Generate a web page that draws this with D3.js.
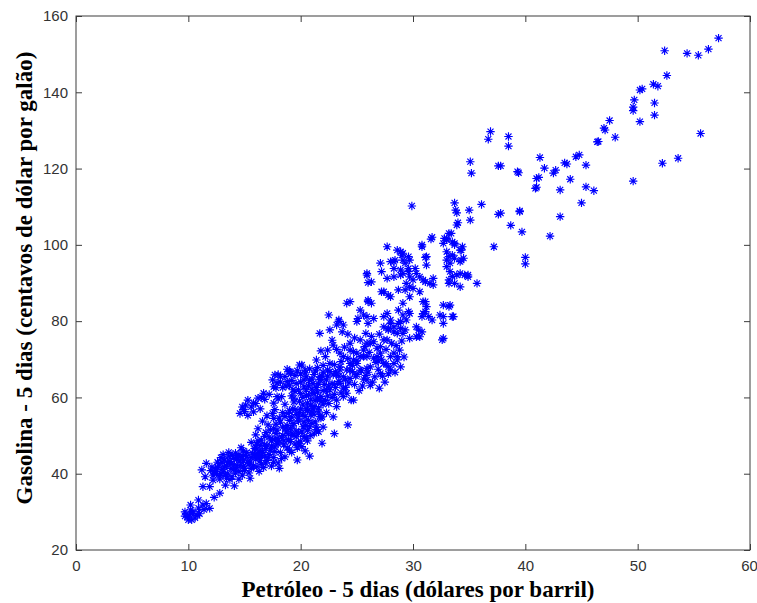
<!DOCTYPE html>
<html>
<head>
<meta charset="utf-8">
<script src="https://cdn.jsdelivr.net/npm/d3@7"></script>
<style>
  html, body { margin: 0; padding: 0; background: #fff; }
  svg { display: block; }
</style>
</head>
<body>
<svg id="chart" width="757" height="603"></svg>
<script>
// ---- Data (Petróleo [dólares por barril], Gasolina [centavos de dólar por galão]) ----
const xTicks = [0, 10, 20, 30, 40, 50, 60];
const yTicks = [20, 40, 60, 80, 100, 120, 140, 160];
const xLabel = "Petróleo - 5 dias (dólares por barril)";
const yLabel = "Gasolina - 5 dias (centavos de dólar por galão)";

const grupoBaixo = [
  [9.7,28.9],[10.0,27.9],[10.4,30.0],[10.9,31.0],[11.3,31.8],[10.6,28.4],[10.2,30.5],[11.0,29.5],
  [10.9,33.1],[11.6,32.2],[10.2,31.8],[10.4,29.6],[9.9,28.7],[9.7,30.0],[10.3,27.9],[11.9,30.9],
  [12.8,34.9],[11.3,36.6],[11.9,36.6],[10.8,29.0],[11.4,30.6],[10.1,29.2],[12.3,33.8],
  [11.6,42.7],[11.2,41.0],[12.1,41.8],[11.5,39.2],[12.2,38.3],[12.5,40.1],[13.3,37.0],[12.0,40.8],
  [12.8,39.5],[13.0,41.2],[13.5,40.0],[13.8,42.5],[13.2,43.6],[12.6,43.0],[14.0,41.0],[14.3,43.8],
  [13.6,44.6],[14.6,42.2],[14.8,44.5],[13.9,39.2],[14.5,40.6],[15.0,41.5],[15.3,43.0],[14.2,45.4],
  [13.1,45.0],[15.6,44.2],[15.8,42.0],[16.0,43.8],[15.2,45.6],[14.7,46.8],[16.2,45.2],[12.9,44.2],
  [13.7,38.5],[14.1,36.8],[15.5,38.8],[16.5,42.5],[16.8,44.6],[15.9,46.6],[16.4,47.4],[14.5,38.6],
  [12.4,41.2],[12.7,42.6],[13.1,40.4],[13.4,42.0],[13.7,43.2],[14.1,42.4],[14.4,44.2],[14.9,43.4],
  [15.2,44.4],[15.5,43.0],[15.9,45.0],[16.3,44.2],[13.0,43.0],[14.5,45.0],[12.2,39.6],[13.4,38.8],
  [14.8,39.6],[15.4,40.2],[16.1,41.8]
];

const grupoCentral = [
  [16.6,46.0],[17.0,47.5],[17.2,45.0],[17.5,49.0],[17.8,50.5],[17.3,51.5],[16.8,49.8],[16.2,48.6],
  [17.9,48.0],[18.4,50.0],[18.7,52.0],[18.2,53.5],[17.6,54.5],[19.0,54.0],[19.3,52.5],[18.9,49.0],
  [19.6,55.5],[19.0,56.5],[18.4,56.0],[20.0,57.0],[19.8,53.8],[20.4,55.0],[20.6,58.5],[21.0,56.2],
  [19.4,58.8],[20.2,60.0],[21.3,59.2],[21.6,57.3],[17.0,43.5],[17.6,44.2],[18.0,42.8],[18.6,44.4],
  [19.2,45.6],[19.5,47.8],[20.0,48.5],[19.7,43.6],[20.4,46.0],[20.8,44.6],[18.1,41.4],[17.4,42.0],
  [16.3,40.6],[19.2,50.6],[20.6,51.4],[21.4,52.2],[21.8,54.6],[22.3,56.0],[22.0,58.2],[16.0,50.2],
  [15.6,48.2],[18.5,47.6],[17.1,52.8],[16.6,53.8],
  [14.6,55.8],[14.9,56.8],[15.3,55.3],[15.6,57.5],[16.0,58.4],[16.4,57.0],[15.1,58.0],[16.8,59.5],
  [17.2,60.8],[16.5,60.0],[14.8,57.5],[15.8,56.2],[15.3,59.3],[16.2,59.8],
  [17.8,62.5],[18.2,64.0],[18.6,65.5],[19.0,63.2],[19.5,65.8],[20.1,68.5],[20.4,66.4],[19.8,62.0],
  [20.8,64.5],[21.2,66.0],[21.6,63.5],[22.0,61.8],[22.3,64.6],[18.3,60.2],[19.2,60.4],[17.5,64.6],
  [18.0,66.0],[19.0,66.8],[20.0,64.0],[21.0,62.2],[21.8,60.2],[22.6,62.0],[23.0,60.8],[22.9,54.9],
  [23.2,57.6],[23.8,60.2],[24.5,59.3],[21.7,55.0],[21.4,51.5],[20.2,52.3],[17.6,58.5],[18.0,59.6],
  [20.8,67.5],[21.9,65.6],[21.9,48.0],[23.0,50.5],[24.2,52.8],
  [16.6,45.6],[16.9,46.6],[17.3,46.2],[17.7,47.0],[18.0,48.8],[18.3,49.6],[18.7,51.0],[19.1,51.8],
  [19.4,53.2],[19.8,54.6],[20.2,55.6],[20.5,57.0],[20.9,58.0],[21.2,57.6],[21.5,59.8],[21.9,59.0],
  [22.4,60.4],[16.0,46.8],[17.4,48.6],[18.8,52.6],[19.6,51.2],[20.3,53.6],[20.9,55.4],[17.9,51.4],
  [18.6,55.0],[19.3,57.0],[19.9,59.0],[20.7,60.6],[21.5,61.4],[22.2,59.2],[16.9,42.8],[17.6,43.0],
  [18.3,44.0],[19.0,46.2],[19.7,46.8],[20.3,49.8],[20.9,50.0],[21.3,53.6],[16.2,51.8],[17.0,55.2],
  [17.7,56.8],[18.6,58.2],[19.5,61.6],[20.3,62.8],[21.0,64.8],[19.2,64.4],[18.8,67.4],[20.4,67.2],
  [21.5,67.8],[22.6,66.8],[23.4,65.6],[22.8,63.6],[23.8,62.4],
  [19.9,68.5],[18.2,65.4],[19.1,66.3],[20.5,65.4],[21.7,65.4],[22.9,65.9],[23.5,67.2],[24.4,68.9],
  [25.3,70.7],[16.7,61.1],[15.8,58.5],[15.0,56.3],[17.6,62.8],[17.9,60.2],[20.5,62.0],[21.1,63.7],
  [22.3,62.0],[21.7,59.3],[23.5,63.7],[24.1,61.1],[24.7,59.3],[23.2,59.3],[21.9,54.9],[21.6,51.0],
  [20.8,52.3],[20.5,49.3],[20.1,47.1],[19.6,49.7],[17.7,65.9],[19.1,66.7]
];

const grupoDenso = [
  [12.3,40.5],[12.6,41.6],[12.9,40.0],[13.2,41.8],[13.5,43.0],[13.8,41.4],[14.0,44.0],[14.3,41.6],
  [14.6,43.4],[14.9,42.0],[15.1,44.8],[15.4,42.6],[15.7,45.4],[16.0,44.6],[16.3,46.0],[13.9,44.8],
  [13.3,39.6],[12.8,38.6],[14.2,40.2],[15.0,40.8],[15.6,41.4],[16.4,43.4],[16.7,41.6],[13.6,45.6],
  [14.9,46.0],
  [16.5,44.8],[16.8,47.6],[17.1,44.2],[17.4,47.2],[17.7,45.8],[18.0,47.8],[18.2,45.6],[18.5,48.6],
  [18.8,46.8],[19.1,48.4],[19.4,50.0],[19.8,48.0],[20.1,51.0],[20.4,52.6],[20.7,54.0],[21.0,53.2],
  [21.2,55.6],[18.4,52.2],[18.1,54.6],[17.8,53.0],[17.5,55.8],[18.9,55.8],[19.2,54.8],[19.5,56.8],
  [19.9,56.0],[20.2,58.2],[20.6,56.6],[21.1,57.0],[21.6,56.2],[16.9,50.8],[17.2,49.6],[16.5,48.8],
  [17.6,51.8],[18.9,50.4],[19.8,50.6],[20.6,48.6],[21.2,50.6],[22.0,52.2],[16.1,47.8],[17.9,49.2],
  [17.9,63.8],[18.4,62.6],[18.8,64.2],[19.3,62.0],[19.6,63.6],[20.0,66.2],[20.3,64.6],[20.7,63.0],
  [21.1,61.2],[21.4,62.6],[21.8,64.8],[22.1,63.4],[22.4,65.6],[22.8,60.0],[20.0,61.0],[19.4,59.8],
  [20.9,59.4],[22.5,58.4],[23.1,62.6],[18.7,63.0],[19.7,67.0],[21.3,67.0],[22.0,66.6],
  [23.0,63.4],[23.8,65.4],[24.3,63.8],[24.9,65.6],[25.5,63.0],[26.0,66.6],[26.4,64.0],[26.9,67.4],
  [27.3,65.6],[27.8,66.2],[28.4,66.6],[25.0,71.6],[25.6,72.4],[26.1,71.8],[26.7,69.2],[27.2,70.0],
  [27.6,72.6],[28.1,74.2],[28.8,72.4],[29.0,74.8],[26.3,76.0],[27.0,76.6],[25.8,76.8],[24.8,75.6],
  [23.9,73.2],[23.2,72.6],[22.4,72.4],[21.8,72.2],[22.8,75.0],[24.2,76.6],[26.9,69.6],[27.6,68.8],
  [28.9,68.0],[29.2,70.6],[28.5,73.6]
];

const grupoMedio = [
  [20.5,60.5],[21.2,61.0],[22.5,63.0],[23.4,64.2],[24.0,62.6],[24.4,65.0],[23.6,61.2],[24.8,63.4],
  [25.2,61.8],[25.6,64.8],[26.2,63.2],[26.6,65.4],[25.0,66.0],[27.0,62.4],[27.5,64.0],
  [22.4,67.2],[23.0,68.6],[23.6,69.4],[24.2,70.2],[24.6,68.4],[25.0,69.6],[23.2,66.2],[24.0,64.6],
  [24.6,66.8],[25.4,67.0],[25.8,65.8],[22.0,68.4],[21.4,69.8],
  [22.2,70.7],[22.6,68.9],[23.1,66.7],[21.7,64.6],
  [25.3,75.1],[25.9,74.2],[26.5,74.6],[27.1,73.3],[27.7,75.1],[28.3,71.6],[25.9,70.7],[26.8,70.7],
  [27.4,68.9],[26.2,68.0],[25.3,67.2],[28.0,67.2],[28.6,70.7],[24.4,72.4],[24.7,69.8],[24.1,67.2],
  [23.5,71.6],[27.1,66.3],[25.9,64.6],[28.3,68.9],
  [25.7,73.3],[26.2,74.2],[26.8,72.9],[27.4,75.1],[24.4,74.2],[24.7,72.0],[25.6,70.7],[26.5,70.3],
  [27.1,71.6],[28.0,70.7],[28.6,69.8],[27.8,68.0],[25.9,67.6],[25.0,68.9],[24.4,67.2],[23.8,70.7],
  [23.5,68.0],[22.6,77.7],[22.9,73.7],
  [21.7,76.8],[22.5,81.6],[23.4,79.9],[23.8,79.0],[25.3,82.9],[25.9,81.2],[25.1,80.7],[26.0,79.4],
  [26.3,84.7],[26.0,85.5],[27.4,81.2],[28.0,80.3],[28.3,78.5],[28.7,79.4],[29.1,81.6],[29.4,80.3],
  [29.7,82.0],[31.1,85.1],[31.2,83.8],[30.9,82.0],[31.4,81.2],[32.7,84.2],[33.2,83.8],[32.7,81.2],
  [33.6,81.2],[32.7,79.4],[30.3,78.5],[30.3,75.9],[30.8,77.2],[32.6,75.1],[31.7,80.3],[27.8,78.1],
  [28.3,77.2],[28.9,78.1],[29.1,76.8],[23.2,79.0],[23.7,77.2],[24.1,84.7],
  [23.4,80.3],[25.0,79.9],[25.6,81.6],[26.5,80.7],[27.7,82.0],[28.0,79.4],[28.9,79.9],[27.8,77.7],
  [28.6,76.8],[29.3,77.7],[27.4,78.5],[30.5,77.7],[30.6,75.9],[29.7,75.5],[32.7,75.5],
  [24.4,85.1],[26.0,85.1],[29.1,84.7],[28.7,82.9],[29.6,82.5],[30.9,85.1],[31.1,82.5],[30.8,81.2],
  [33.3,84.2],[32.4,81.6],[33.5,81.2],
  [27.4,87.7],[27.8,86.8],[28.7,88.2],[27.2,87.7],[28.0,86.4],[29.4,89.9],[30.0,88.6],[30.6,87.7],
  [29.7,86.4],[29.3,88.2],[29.7,89.0],[25.9,92.1],[26.0,90.1],[27.2,93.0],[27.7,91.2],[28.3,91.6],
  [28.9,92.1],[30.0,90.8],[30.6,91.6],[31.1,90.3],[31.5,89.9],[31.8,91.2],[29.1,92.5],[29.7,91.6],
  [28.3,93.8],[28.9,93.4],[29.6,93.8],[30.2,93.8],[27.1,95.2],[28.0,95.6],[28.4,96.0],[29.1,96.0],
  [27.7,99.5],[28.6,98.6],[28.9,98.2],[29.1,97.8],[29.6,96.9],[29.7,96.0],[31.1,96.7],[31.2,94.7],
  [30.8,99.5],[31.7,102.0],[31.6,101.5],[32.8,101.7],[29.0,97.3],[28.3,95.6],[29.3,95.2],
  [26.3,90.3],[25.9,92.5],[29.6,93.0],[30.3,92.5],[30.9,90.8],[31.8,89.5],[30.8,100.0],[31.2,96.9],
  [33.0,98.2],[33.2,96.9],[34.3,98.6],[34.5,96.5],[33.0,94.3],[33.3,93.0],[33.5,91.7],[33.9,92.1],
  [34.6,92.1],[34.9,91.6],[35.7,89.9],[33.2,90.8],[33.7,89.9],[34.2,89.0],[33.2,89.9],
  [33.2,103.0],[33.5,100.8],[32.7,100.4],[33.7,96.5],[34.2,95.6],[33.0,96.0],[33.3,95.2],[34.3,96.0],
  [34.2,92.5],[34.9,92.1]
];

const grupoAlto = [
  [29.9,110.2],[33.7,111.0],[33.8,109.1],[33.9,108.4],[35.0,109.1],[35.1,106.5],[36.1,110.6],
  [33.9,105.2],[37.6,108.0],[39.5,108.9],[38.7,105.1],[39.7,103.4],[43.1,107.4],[42.2,102.3],
  [37.2,99.5],[40.0,96.7],[40.0,95.0],[34.0,105.8],[33.4,103.0],[33.0,101.3],[33.7,100.4],
  [33.0,101.7],[33.7,100.0],[34.2,98.6],[34.4,99.5],[33.5,97.3],
  [35.1,121.8],[35.2,118.8],[37.6,120.7],[39.3,119.2],[36.9,129.7],[36.7,127.7],[38.5,128.4],
  [38.5,125.9],[41.3,122.9],[41.7,120.1],[41.0,117.4],[40.9,114.8],[42.5,118.8],[42.7,119.6],
  [43.5,121.5],[43.7,121.2],[44.5,123.1],[44.8,123.6],[45.4,120.9],[41.2,117.7],[41.0,115.1],
  [44.0,117.2],[43.1,114.4],[45.4,115.2],[46.1,114.2],[45.0,111.0],[39.4,118.9],[37.8,120.7],
  [39.5,108.7],[37.8,108.3],[46.4,127.0],
  [47.5,132.6],[47.0,130.6],[47.1,130.1],[48.0,128.2],[46.5,127.1],
  [49.6,116.7],[52.2,121.4],[53.6,122.7],[55.6,129.2],[50.2,132.3],[51.5,134.0],[51.5,137.2],
  [49.6,136.1],[49.6,135.2],[49.7,138.0],[50.2,140.6],[50.4,140.9],[51.4,142.1],[51.8,141.6],
  [52.6,144.4],[52.4,150.9],[54.4,150.2],[55.4,149.7],[56.3,151.3],[57.2,154.2]
];

// ---- Layout ----
const svg = d3.select("#chart");
const mLeft = 76, mRight = 750, mTop = 16, mBottom = 550;

const x = d3.scaleLinear().domain([0, 60]).range([mLeft, mRight]);
const y = d3.scaleLinear().domain([20, 160]).range([mBottom, mTop]);

const axisColor = "#3c3c3c";
const tickFont = "'Liberation Sans', Arial, sans-serif";

// Box
svg.append("rect")
  .attr("x", mLeft).attr("y", mTop)
  .attr("width", mRight - mLeft).attr("height", mBottom - mTop)
  .attr("fill", "none").attr("stroke", axisColor).attr("stroke-width", 1);

// Axes (ticks inward)
const tickLen = 6;
const gx = svg.append("g").attr("transform", `translate(0,${mBottom})`)
  .call(d3.axisBottom(x).tickValues(xTicks).tickSizeInner(-tickLen).tickSizeOuter(0).tickPadding(10));
const gxTop = svg.append("g").attr("transform", `translate(0,${mTop})`)
  .call(d3.axisTop(x).tickValues(xTicks).tickSizeInner(-tickLen).tickSizeOuter(0).tickFormat(""));
const gy = svg.append("g").attr("transform", `translate(${mLeft},0)`)
  .call(d3.axisLeft(y).tickValues(yTicks).tickSizeInner(-tickLen).tickSizeOuter(0).tickPadding(8));
const gyRight = svg.append("g").attr("transform", `translate(${mRight},0)`)
  .call(d3.axisRight(y).tickValues(yTicks).tickSizeInner(-tickLen).tickSizeOuter(0).tickFormat(""));

[gx, gxTop, gy, gyRight].forEach(g => {
  g.select(".domain").remove();
  g.selectAll(".tick line").attr("stroke", axisColor);
  g.selectAll(".tick text")
    .attr("fill", "#333")
    .style("font-family", tickFont)
    .style("font-size", "15px");
});
// keep the last x tick label inside the window
gx.selectAll(".tick text").filter(d => d === 60).attr("dx", "-1");

// Asterisk marker
const asterisk = "M0,-4.2V4.2M-4.2,0H4.2M-3,-3L3,3M-3,3L3,-3";
const allPoints = [].concat(grupoBaixo, grupoCentral, grupoDenso, grupoMedio, grupoAlto);
svg.append("g")
  .selectAll("path")
  .data(allPoints)
  .join("path")
  .attr("transform", d => `translate(${x(d[0])},${y(d[1])})`)
  .attr("d", asterisk)
  .attr("stroke", "#0000ff")
  .attr("stroke-width", 1.15)
  .attr("fill", "none");

// Labels
svg.append("text")
  .attr("x", 418).attr("y", 597)
  .attr("text-anchor", "middle")
  .style("font-family", "'Liberation Serif', 'Times New Roman', serif")
  .style("font-weight", "bold")
  .style("font-size", "23px")
  .attr("fill", "#000")
  .text(xLabel);

svg.append("text")
  .attr("transform", "translate(32,278) rotate(-90)")
  .attr("text-anchor", "middle")
  .style("font-family", "'Liberation Serif', 'Times New Roman', serif")
  .style("font-weight", "bold")
  .style("font-size", "23px")
  .attr("fill", "#000")
  .text(yLabel);
</script>
</body>
</html>
